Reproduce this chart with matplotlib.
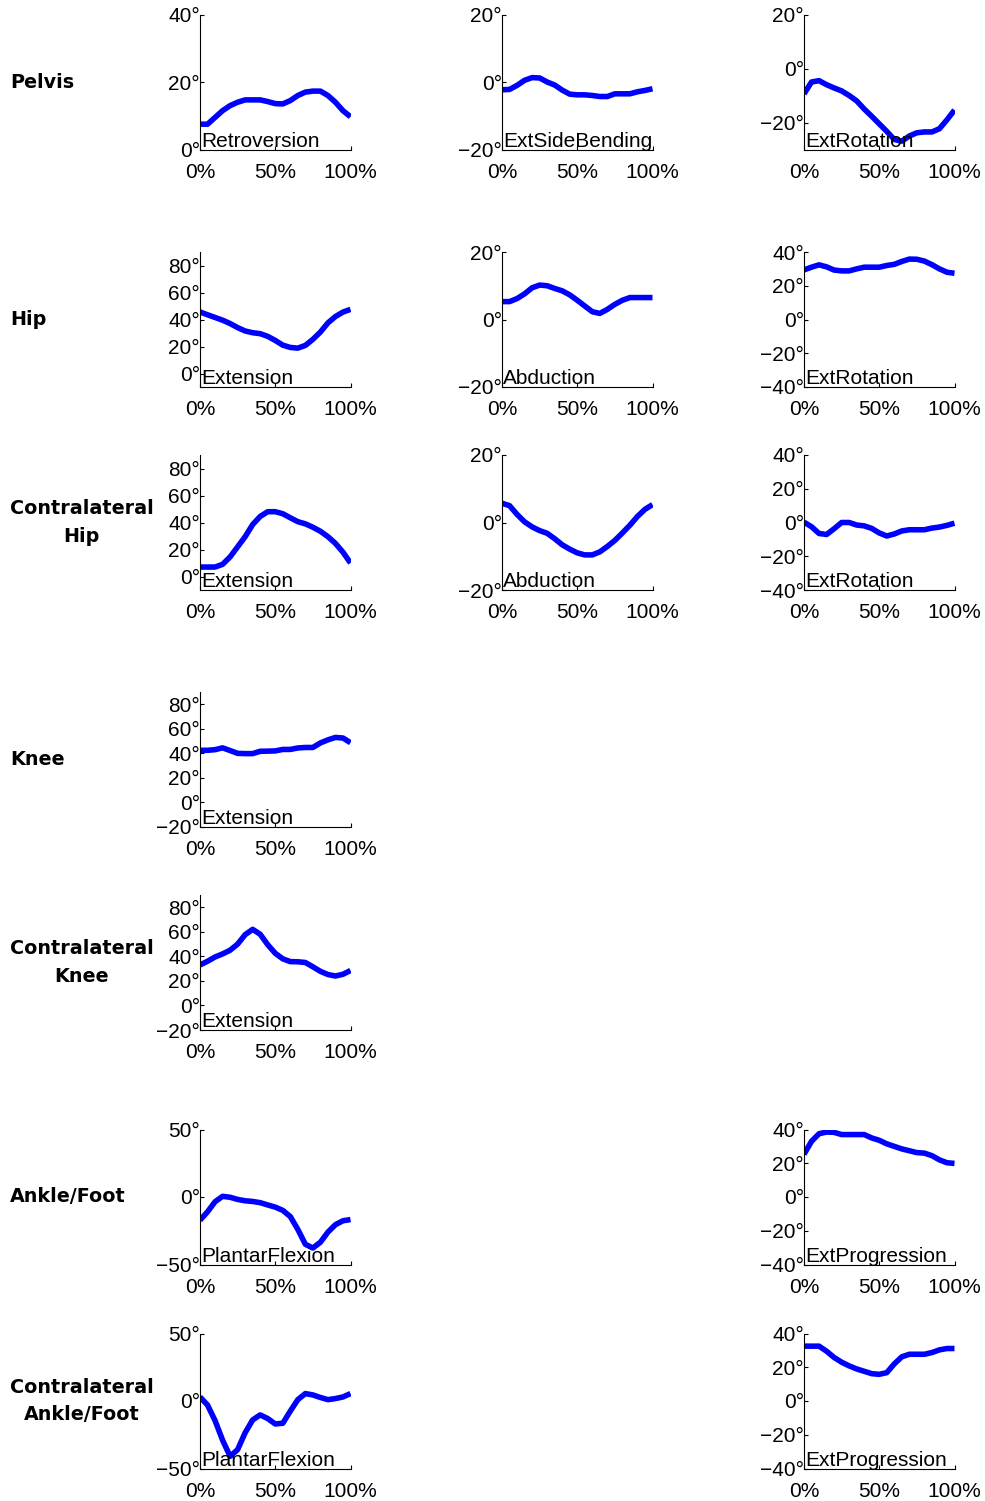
import matplotlib
matplotlib.use("Agg")
import matplotlib.pyplot as plt

plt.rcParams['font.family'] = ['Liberation Sans', 'DejaVu Sans']

# gait cycle percentage
gait_pct = [0, 5, 10, 15, 20, 25, 30, 35, 40, 45, 50, 55, 60, 65, 70, 75, 80, 85, 90, 95, 100]

pelvis_retroversion = [7.5, 7.5, 9.5, 11.5, 13.0, 14.0, 14.7, 14.7, 14.7, 14.2, 13.6, 13.5, 14.5, 16.0, 17.0, 17.3, 17.3, 16.0, 14.0, 11.5, 9.7]
pelvis_side_bending = [-2.3, -2.2, -1.0, 0.5, 1.3, 1.2, 0.0, -0.9, -2.4, -3.6, -3.8, -3.8, -4.0, -4.3, -4.3, -3.5, -3.5, -3.5, -2.9, -2.5, -2.0]
pelvis_rotation = [-9.4, -5.0, -4.5, -6.0, -7.2, -8.3, -10.0, -12.0, -15.0, -17.7, -20.5, -23.3, -26.3, -26.9, -25.0, -23.8, -23.5, -23.5, -22.3, -19.0, -15.4]

hip_extension = [45.6, 43.5, 41.5, 39.5, 37.0, 34.0, 31.5, 30.2, 29.5, 27.5, 24.5, 21.0, 19.3, 18.8, 20.8, 25.3, 30.7, 37.5, 42.2, 45.5, 47.5]
hip_abduction = [5.3, 5.3, 6.2, 7.6, 9.4, 10.2, 10.0, 9.2, 8.5, 7.3, 5.7, 4.0, 2.3, 1.8, 3.0, 4.5, 5.7, 6.5, 6.5, 6.5, 6.5]
hip_rotation = [29.4, 31.0, 32.4, 31.2, 29.3, 28.8, 28.8, 30.0, 31.0, 31.0, 31.0, 32.0, 32.7, 34.4, 35.8, 35.7, 34.6, 32.5, 30.0, 28.0, 27.4]

chip_extension = [7.0, 7.0, 7.0, 9.0, 14.5, 22.0, 29.5, 38.5, 44.5, 48.0, 48.0, 46.5, 43.5, 40.6, 39.0, 36.5, 33.5, 29.5, 24.5, 18.0, 10.0]
chip_abduction = [5.7, 5.0, 2.4, 0.2, -1.3, -2.4, -3.2, -4.8, -6.6, -7.9, -9.0, -9.6, -9.6, -8.7, -7.1, -5.3, -3.1, -0.8, 1.8, 3.9, 5.3]
chip_rotation = [0.2, -2.5, -6.5, -7.1, -3.7, 0.0, 0.0, -1.5, -2.0, -3.5, -6.2, -8.0, -6.8, -5.0, -4.3, -4.3, -4.3, -3.3, -2.7, -1.7, -0.4]

knee_extension = [42.5, 42.5, 43.0, 44.5, 42.3, 40.0, 39.8, 39.8, 41.7, 41.8, 42.0, 43.2, 43.2, 44.4, 44.8, 44.8, 48.5, 51.0, 53.0, 52.5, 48.7]
cknee_extension = [33.0, 36.0, 39.5, 42.0, 45.0, 50.0, 57.7, 62.0, 58.0, 49.5, 42.5, 38.0, 35.7, 35.6, 35.0, 31.5, 27.8, 25.2, 24.0, 25.4, 28.5]

ankle_plantarflexion = [-17.2, -11.0, -3.5, 0.5, -0.2, -1.8, -2.8, -3.3, -4.2, -5.9, -7.5, -9.9, -14.5, -24.0, -35.0, -37.8, -33.5, -26.0, -20.5, -17.6, -16.7]
foot_progression = [25.3, 33.0, 37.5, 38.5, 38.3, 37.0, 37.0, 37.0, 37.0, 35.0, 33.6, 31.5, 30.0, 28.5, 27.4, 26.3, 26.0, 24.5, 22.0, 20.3, 19.9]
cankle_plantarflexion = [3.0, -3.0, -14.5, -29.0, -41.0, -36.0, -23.5, -14.0, -10.3, -13.0, -17.0, -16.5, -7.5, 1.0, 5.5, 4.5, 2.6, 1.0, 1.8, 3.0, 5.5]
cfoot_progression = [32.5, 32.5, 32.5, 29.5, 25.8, 23.0, 20.8, 19.0, 17.6, 16.2, 15.8, 16.8, 22.0, 26.2, 27.7, 27.7, 27.7, 28.7, 30.3, 31.1, 31.1]

row_labels = ["Pelvis", "Hip", "Contralateral\nHip", "Knee", "Contralateral\nKnee",
              "Ankle/Foot", "Contralateral\nAnkle/Foot"]
x_ticks = [0, 50, 100]
x_tick_labels = ["0%", "50%", "100%"]

# (row, col, name, data, ylim, yticks)
panels = [
    (0, 0, "Retroversion", pelvis_retroversion, (0, 40), [0, 20, 40]),
    (0, 1, "ExtSideBending", pelvis_side_bending, (-20, 20), [-20, 0, 20]),
    (0, 2, "ExtRotation", pelvis_rotation, (-30, 20), [-20, 0, 20]),
    (1, 0, "Extension", hip_extension, (-10, 90), [0, 20, 40, 60, 80]),
    (1, 1, "Abduction", hip_abduction, (-20, 20), [-20, 0, 20]),
    (1, 2, "ExtRotation", hip_rotation, (-40, 40), [-40, -20, 0, 20, 40]),
    (2, 0, "Extension", chip_extension, (-10, 90), [0, 20, 40, 60, 80]),
    (2, 1, "Abduction", chip_abduction, (-20, 20), [-20, 0, 20]),
    (2, 2, "ExtRotation", chip_rotation, (-40, 40), [-40, -20, 0, 20, 40]),
    (3, 0, "Extension", knee_extension, (-20, 90), [-20, 0, 20, 40, 60, 80]),
    (4, 0, "Extension", cknee_extension, (-20, 90), [-20, 0, 20, 40, 60, 80]),
    (5, 0, "PlantarFlexion", ankle_plantarflexion, (-50, 50), [-50, 0, 50]),
    (5, 2, "ExtProgression", foot_progression, (-40, 40), [-40, -20, 0, 20, 40]),
    (6, 0, "PlantarFlexion", cankle_plantarflexion, (-50, 50), [-50, 0, 50]),
    (6, 2, "ExtProgression", cfoot_progression, (-40, 40), [-40, -20, 0, 20, 40]),
]

W, H = 985, 1501
fig = plt.figure(figsize=(W / 100, H / 100), dpi=100)

col_left = [200, 502, 804]
ax_w = 150.5
row_top = [14.5, 252, 455, 692, 895, 1129.5, 1333.5]
ax_h = 135

def fmt(v):
    s = f"{abs(v)}°"
    return ("\u2212" + s) if v < 0 else s

for r, c, name, data, ylim, yt in panels:
    left = col_left[c] / W
    bottom = 1 - (row_top[r] + ax_h) / H
    ax = fig.add_axes([left, bottom, ax_w / W, ax_h / H])
    ax.plot(gait_pct, data, color="#0000FF", lw=4.0, solid_capstyle="butt", zorder=2)
    ax.set_xlim(0, 100)
    ax.set_ylim(*ylim)
    ax.set_xticks(x_ticks)
    ax.set_xticklabels(x_tick_labels)
    ax.set_yticks(yt)
    ax.set_yticklabels([fmt(v) for v in yt])
    for s in ("top", "right"):
        ax.spines[s].set_visible(False)
    for s in ("left", "bottom"):
        ax.spines[s].set_linewidth(0.8)
    ax.tick_params(axis="both", direction="in", length=3, width=0.8, labelsize=15)
    ax.tick_params(axis="x", pad=9.5)
    ax.tick_params(axis="y", pad=0)
    ax.patch.set_visible(False)
    ax.annotate(name, xy=(0, 0), xycoords="axes fraction", xytext=(1, 2),
                textcoords="offset points", ha="left", va="baseline",
                fontsize=15, zorder=5)

for r, lab in enumerate(row_labels):
    yc = 1 - (row_top[r] + ax_h / 2) / H
    fig.text(10 / W, yc, lab, ha="left", va="center", multialignment="center",
             fontsize=13.75, fontweight="bold", family="DejaVu Sans", linespacing=1.55)

fig.savefig("out.png", dpi=100)
